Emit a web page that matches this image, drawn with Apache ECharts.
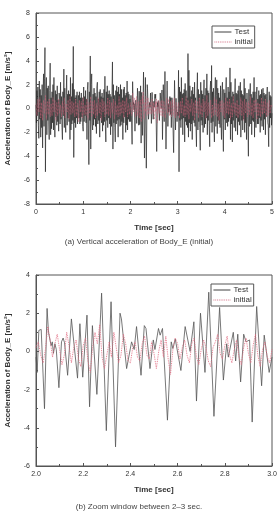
<!DOCTYPE html>
<html><head><meta charset="utf-8">
<script src="https://cdn.jsdelivr.net/npm/echarts@6/dist/echarts.min.js"></script>
<style>html,body{margin:0;padding:0;background:#fff}#c{width:278px;height:523px}</style>
</head><body><div id="c"></div><script>
// ---------- tick labels ----------
const topXTicks = [0, 1, 2, 3, 4, 5];
const topYTicks = [-8, -6, -4, -2, 0, 2, 4, 6, 8];
const zoomXTicks = [2.0, 2.2, 2.4, 2.6, 2.8, 3.0];
const zoomYTicks = [-6, -4, -2, 0, 2, 4];
const seriesNames = ['Test', 'initial'];

// ---------- Test signal, 2-3 s (read from zoom window), vertex times / values ----------
const zoomTestT = [2.000,2.005,2.012,2.022,2.036,2.047,2.053,2.058,2.064,2.069,2.074,2.080,2.086,2.097,2.108,2.115,2.121,2.134,2.150,2.176,2.186,2.198,2.216,2.227,2.239,2.247,2.258,2.278,2.298,2.318,2.337,2.356,2.362,2.384,2.405,2.416,2.426,2.445,2.459,2.466,2.483,2.497,2.504,2.519,2.526,2.536,2.557,2.573,2.580,2.590,2.614,2.632,2.653,2.669,2.680,2.697,2.716,2.732,2.754,2.778,2.794,2.808,2.815,2.836,2.846,2.855,2.867,2.880,2.890,2.905,2.916,2.935,2.956,2.967,2.988,3.000];
const zoomTestV = [-0.3,-1.1,1.1,1.15,-3.0,2.25,1.0,1.05,0.3,0.5,-0.1,0.4,0.1,-1.9,0.5,0.7,0.45,-1.25,1.7,-1.4,1.45,-1.35,1.9,-2.9,1.35,1.25,-2.25,3.05,-4.15,2.6,-5.0,2.0,1.7,-0.9,0.5,0.1,1.3,-1.25,1.35,1.2,-0.9,0.6,0.1,1.2,0.85,1.2,-3.6,0.5,0.15,0.65,-1.0,1.3,0.0,1.55,-2.6,2.0,-1.1,3.1,-3.4,2.3,-1.5,0.4,-0.3,1.0,-0.5,0.9,-1.6,0.9,0.5,0.6,-3.7,2.35,-1.8,0.85,-1.1,-0.3];

// ---------- initial signal, 2-3 s, sampled every 0.01 s from 2.00 ----------
const zoomInitStart = 2.0, zoomInitStep = 0.01;
const zoomInitV = [
  0.2,0.5,-0.2,-0.6,0.1,1.3,0.6,-0.3,0.4,0.9,
  0.1,-0.7,-0.2,1.0,0.3,-0.6,0.2,0.6,-0.4,-0.8,
  0.3,0.7,-0.5,-1.1,0.2,1.0,0.4,1.4,-0.3,-0.9,
  -0.2,0.5,-0.3,1.0,0.2,-0.6,-0.2,0.9,0.4,-0.5,
  -0.6,0.2,0.5,-0.3,-0.5,0.4,0.8,-0.2,-0.4,0.5,
  -0.1,-0.9,0.0,0.6,-0.3,0.8,-0.4,-1.2,0.1,0.7,
  0.4,-0.4,0.2,0.6,-0.2,-0.6,0.4,0.7,-0.3,-0.7,
  0.1,0.6,0.2,-0.5,-0.8,0.2,0.5,0.9,-0.1,-0.4,
  0.3,0.8,-0.2,-0.6,0.1,0.6,-0.3,-0.7,0.2,0.7,
  -0.1,-0.6,0.3,0.9,-0.2,-0.8,0.1,0.5,-0.3,-0.6,
  0.1];

// ---------- Test signal, 0-2 s (from 0.00) and 3-5 s (from 3.01), sampled every 0.01 s ----------
const fullStep = 0.01;
const testA_start = 0.0;
const testA = [
  0.3,-1.2,1.5,-0.6,1.8,-1.4,-2.5,2.3,-0.9,1.6,
  -2.4,1.1,-1.6,2.0,-3.3,1.2,2.9,-1.5,2.5,5.1,
  -5.3,1.4,2.6,-2.2,1.7,-1.0,1.9,-1.3,-2.6,1.5,
  3.8,-2.2,0.9,-1.7,1.4,-1.2,2.0,-1.8,2.6,-0.8,
  -2.4,1.5,-0.7,1.2,-1.4,1.9,-1.1,0.7,-1.9,1.3,
  0.8,-1.3,2.2,-0.9,1.0,-1.6,-2.6,1.4,-0.6,3.3,
  -1.6,1.7,-1.2,-2.0,1.1,2.8,-1.4,1.2,-0.8,1.5,
  -1.1,1.2,-2.6,2.6,-1.8,1.0,-1.3,2.1,-1.0,5.2,
  -4.1,1.6,-1.2,0.9,-1.6,1.1,-0.8,1.4,-1.3,0.6,
  1.1,-0.8,1.4,-1.3,0.9,-1.1,1.3,-0.7,0.9,-1.5,
  -1.9,1.8,-1.1,1.0,-0.6,1.5,-1.2,0.8,-2.6,1.6,
  2.2,-1.3,-4.7,1.4,-1.0,4.4,-3.4,2.0,2.9,-1.2,
  -1.8,1.2,-1.4,1.7,-0.9,1.3,-1.5,1.0,-2.1,1.8,
  2.2,-1.3,0.8,-1.0,1.4,-2.4,1.6,-0.8,1.0,-1.2,
  1.3,-1.9,0.9,-1.4,1.6,-1.1,2.7,-1.5,-2.8,1.4,
  -1.0,1.9,-1.6,1.2,-0.8,1.5,-1.3,1.2,-2.2,1.0,
  -1.5,1.4,3.9,-3.4,2.0,-1.2,1.1,-1.6,-2.8,1.5,
  -1.3,1.9,-1.0,1.4,-2.4,1.8,-0.9,1.2,-1.5,2.0,
  -1.4,1.6,-1.1,0.9,-2.6,1.6,-1.2,1.8,-0.7,1.1,
  -2.0,1.3,-1.4,2.3,-1.8,1.4,-0.9,1.2,-1.1,0.8];
const testB_start = 3.01;
const testB = [
  -0.6,3.2,-5.3,1.8,-1.0,1.4,-1.6,2.6,-0.9,1.2,
  -2.2,1.3,-0.8,1.6,-2.8,2.1,-1.1,1.5,-1.4,0.9,
  -1.6,4.6,-2.4,3.2,-1.2,1.9,-1.9,1.0,-1.3,1.5,
  -2.6,1.8,-1.0,1.2,-1.2,2.2,-1.5,0.9,-1.7,-3.2,
  1.4,3.0,-1.8,1.6,-1.1,1.2,-1.6,-3.5,2.2,-1.0,
  1.5,-1.4,1.2,-2.0,0.9,2.4,-1.6,1.1,-1.3,1.7,
  -0.8,2.9,-2.2,1.5,-1.0,1.3,-1.4,-3.2,1.6,2.3,
  -1.2,3.6,-2.0,1.4,-1.1,1.7,-1.5,-2.8,1.2,2.6,
  -1.5,1.1,2.4,-2.1,1.7,-1.0,1.3,-1.3,0.9,-1.6,
  1.9,-1.2,-2.6,1.5,2.2,-1.4,-3.6,1.6,-0.9,1.3,
  -1.8,1.2,2.6,-1.2,0.9,-1.5,1.8,-1.1,1.4,-0.8,
  3.4,-2.6,2.2,-1.3,1.0,-2.8,1.4,-1.0,1.2,-1.6,
  1.1,2.5,-1.9,1.3,-0.8,1.2,-2.2,1.5,-1.1,1.9,
  -1.4,0.9,2.2,-2.4,1.5,-1.0,1.2,-1.8,1.1,-0.9,
  2.5,-2.0,1.7,-1.2,0.8,-2.6,1.3,1.2,-1.5,-4.0,
  1.6,-1.5,1.0,2.1,-1.3,1.2,-2.2,0.9,-1.0,1.4,
  -1.1,2.6,-2.4,1.4,-0.9,-1.6,1.2,1.8,-1.3,0.8,
  -1.3,1.5,-0.8,1.1,-2.0,1.2,-1.0,1.6,-1.5,0.9,
  1.7,-1.8,1.3,-0.9,1.1,-2.2,1.2,-0.7,1.0,1.8,
  -1.2,-1.4,-3.2,1.4,-1.6,1.1,-0.8,1.0,-1.4,-0.4];

// ---------- initial signal, 0-2 s (from 0.00) and 3-5 s (from 3.02), sampled every 0.02 s ----------
const initStep = 0.02;
const initA = [0.4,-0.6,0.8,-0.3,0.9,-0.8,0.5,-1.0,0.7,-0.4,1.1,-0.9,0.6,-0.5,0.8,-0.7,0.4,-0.6,0.9,-0.3,0.7,-1.0,0.5,-0.6,0.8,-0.4,0.3,-0.7,0.6,-0.5,0.9,-0.8,0.4,-0.3,0.7,-0.9,1.0,-0.5,0.6,-0.4,0.5,-0.7,0.8,-0.6,0.4,-1.1,0.7,-0.3,0.6,-0.8,0.9,-0.5,0.3,-0.6,0.8,-0.9,0.5,-0.4,1.0,-0.7,0.6,-0.5,0.7,-0.8,0.4,-0.6,0.9,-0.4,0.5,-1.0,0.8,-0.3,0.6,-0.7,0.4,-0.5,0.9,-0.6,0.7,-0.8,0.5,-0.4,0.8,-0.9,0.6,-0.5,0.3,-0.7,1.0,-0.6,0.5,-0.4,0.7,-0.8,0.6,-0.3,0.9,-0.7,0.4,-0.5];
const initB = [0.5,-0.8,0.6,-0.4,0.9,-0.6,0.3,-0.7,1.0,-0.5,0.7,-0.9,0.4,-0.3,0.8,-0.6,0.5,-1.0,0.7,-0.4,0.6,-0.8,0.9,-0.5,0.4,-0.7,0.8,-0.3,0.6,-0.9,1.1,-0.6,0.5,-0.4,0.7,-0.8,0.3,-0.6,0.9,-0.5,0.8,-0.7,0.4,-1.0,0.6,-0.3,0.7,-0.6,0.5,-0.8,0.9,-0.4,0.6,-0.5,0.8,-0.9,0.4,-0.7,1.0,-0.4,0.5,-0.6,0.7,-0.8,0.3,-0.5,0.9,-0.6,0.6,-1.0,0.8,-0.4,0.5,-0.7,0.6,-0.5,1.0,-0.6,0.4,-0.8,0.7,-0.3,0.8,-0.9,0.5,-0.6,0.4,-0.7,0.9,-0.5,0.6,-0.4,0.8,-0.7,0.5,-0.6,0.7,-0.4,0.3,0.1];

// ---------- build [t, v] pairs ----------
function sampled(start, step, vals) { return vals.map((v, i) => [+(start + i * step).toFixed(4), v]); }
function paired(ts, vs) { return ts.map((t, i) => [t, vs[i]]); }
const zoomTest = paired(zoomTestT, zoomTestV);
const zoomInit = sampled(zoomInitStart, zoomInitStep, zoomInitV);
const fullTest = sampled(testA_start, fullStep, testA).concat(zoomTest, sampled(testB_start, fullStep, testB));
const fullInit = sampled(0, initStep, initA).concat(zoomInit.slice(1), sampled(3.02, initStep, initB));

const FONT = '"Liberation Sans", Arial, sans-serif';
const axisCol = '#555';

function xAx(grid, ticks, dec) {
  return {
    type: 'value', gridIndex: grid, min: ticks[0], max: ticks[ticks.length - 1],
    interval: +(ticks[1] - ticks[0]).toFixed(4),
    name: 'Time [sec]', nameLocation: 'middle', nameGap: 20,
    nameTextStyle: { fontFamily: FONT, fontSize: 8, fontWeight: 'bold', color: '#333' },
    axisLine: { onZero: false, lineStyle: { color: axisCol, width: 1 } },
    axisTick: { inside: true, length: 3, lineStyle: { color: axisCol } },
    minorTick: { show: true, splitNumber: 2, length: 2, lineStyle: { color: axisCol } },
    splitLine: { show: false },
    axisLabel: { fontFamily: FONT, fontSize: 7, color: '#333', margin: 5,
      formatter: v => v.toFixed(dec) }
  };
}
function yAx(grid, ticks) {
  return {
    type: 'value', gridIndex: grid, min: ticks[0], max: ticks[ticks.length - 1],
    interval: ticks[1] - ticks[0],
    name: 'Acceleration of Body_E [m/s\u00b2]', nameLocation: 'middle', nameGap: 24,
    nameTextStyle: { fontFamily: FONT, fontSize: 8, fontWeight: 'bold', color: '#333' },
    axisLine: { onZero: false, lineStyle: { color: axisCol, width: 1 } },
    axisTick: { inside: true, length: 3, lineStyle: { color: axisCol } },
    minorTick: { show: true, splitNumber: 2, length: 2, lineStyle: { color: axisCol } },
    splitLine: { show: false },
    axisLabel: { fontFamily: FONT, fontSize: 7, color: '#333', margin: 6 }
  };
}
function legendAt(left, top) {
  return {
    data: seriesNames,
    orient: 'vertical', left: left, top: top,
    itemWidth: 17, itemHeight: 8, itemGap: 2, padding: [2, 2, 2, 2],
    itemStyle: { opacity: 0 },
    lineStyle: { width: 0.9 },
    borderColor: axisCol, borderWidth: 1, borderRadius: 0, backgroundColor: '#fff',
    selectedMode: false,
    textStyle: { fontFamily: FONT, fontSize: 8, color: '#333', padding: [0, 0, 0, -2] }
  };
}
function line(name, xi, data, col, type, w) {
  return {
    name: name, type: 'line', xAxisIndex: xi, yAxisIndex: xi, data: data,
    symbol: 'none', showSymbol: false, silent: true, animation: false,
    lineStyle: { color: col, width: w, type: type }, itemStyle: { color: col },
    emphasis: { disabled: true }
  };
}

const chart = echarts.init(document.getElementById('c'), null, { renderer: 'canvas', width: 278, height: 523 });
chart.setOption({
  animation: false,
  backgroundColor: '#fff',
  grid: [
    { left: 36, top: 13, right: 6, height: 191, show: true, borderColor: axisCol, borderWidth: 1,
      containLabel: false, outerBoundsMode: 'none' },
    { left: 36, top: 275, right: 6, height: 191, show: true, borderColor: axisCol, borderWidth: 1,
      containLabel: false, outerBoundsMode: 'none' }
  ],
  title: [
    { text: '(a) Vertical acceleration of Body_E (initial)', left: 'center', top: 238, padding: 0,
      textStyle: { fontFamily: FONT, fontSize: 8, fontWeight: 'normal', color: '#444' } },
    { text: '(b) Zoom window between 2\u20133 sec.', left: 'center', top: 503, padding: 0,
      textStyle: { fontFamily: FONT, fontSize: 8, fontWeight: 'normal', color: '#444' } }
  ],
  legend: [legendAt(212, 26), legendAt(211, 284)],
  xAxis: [xAx(0, topXTicks, 0), xAx(1, zoomXTicks, 1)],
  yAxis: [yAx(0, topYTicks), yAx(1, zoomYTicks)],
  series: [
    line('Test', 0, fullTest, '#2a2a2a', 'solid', 0.7),
    line('initial', 0, fullInit, '#cf6078', 'dotted', 0.7),
    line('Test', 1, zoomTest, '#555', 'solid', 0.8),
    line('initial', 1, zoomInit, '#e26a80', 'dotted', 0.9)
  ]
});
</script></body></html>
